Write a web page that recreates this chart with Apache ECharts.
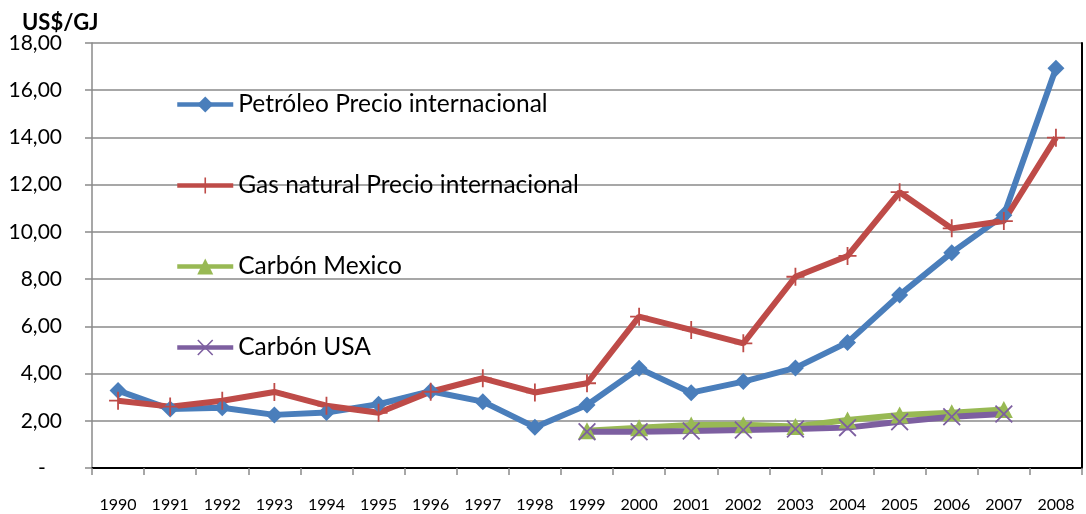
<!DOCTYPE html>
<html>
<head>
<meta charset="utf-8">
<title>Precios de energía 1990-2008</title>
<script src="https://cdn.jsdelivr.net/npm/echarts@6/dist/echarts.min.js"></script>
<style>
  html, body { margin: 0; padding: 0; background: #ffffff; }
  #chart { width: 1086px; height: 514px; }
</style>
</head>
<body>
<div id="chart"></div>
<script>
// Years on the category axis
const years = ['1990','1991','1992','1993','1994','1995','1996','1997','1998','1999',
               '2000','2001','2002','2003','2004','2005','2006','2007','2008'];

// Prices in US$/GJ
const petroleo = [3.28, 2.50, 2.55, 2.25, 2.35, 2.70, 3.25, 2.81, 1.73, 2.67,
                  4.22, 3.19, 3.66, 4.24, 5.32, 7.33, 9.12, 10.70, 16.93];
const gasNatural = [2.85, 2.60, 2.85, 3.22, 2.64, 2.34, 3.23, 3.80, 3.20, 3.59,
                    6.41, 5.85, 5.28, 8.10, 8.98, 11.68, 10.15, 10.46, 13.99];
const carbonMexico = [null, null, null, null, null, null, null, null, null, 1.58,
                      1.71, 1.82, 1.83, 1.76, 2.03, 2.24, 2.34, 2.48, null];
const carbonUSA = [null, null, null, null, null, null, null, null, null, 1.54,
                   1.54, 1.57, 1.61, 1.65, 1.71, 1.96, 2.17, 2.29, null];

// Value-axis tick labels (0 to 18, step 2)
const yTickLabels = ['-   ', '2,00', '4,00', '6,00', '8,00', '10,00', '12,00', '14,00', '16,00', '18,00'];

const seriesNames = ['Petróleo Precio internacional', 'Gas natural Precio internacional', 'Carbón Mexico', 'Carbón USA'];

const FONT = 'Lato';
const GRID_GRAY = '#8a8a8a';

// Marker shapes: thin plus and thin cross
const plusPath = 'path://M9,0h2v9h9v2h-9v9h-2v-9h-9v-2h9z';
const crossPath = 'path://M0,1.4L1.4,0L10,8.6L18.6,0L20,1.4L11.4,10L20,18.6L18.6,20L10,11.4L1.4,20L0,18.6L8.6,10Z';

const chart = echarts.init(document.getElementById('chart'), null, { renderer: 'canvas' });

chart.setOption({
  backgroundColor: '#ffffff',
  animation: false,
  title: {
    text: 'US$/GJ',
    left: 22,
    top: 12,
    padding: 0,
    textStyle: { fontFamily: FONT, fontSize: 22, fontWeight: 'bold', color: '#000000' }
  },
  legend: {
    orient: 'vertical',
    left: 175,
    top: 92,
    padding: 0,
    itemGap: 56,
    itemWidth: 56,
    itemHeight: 20,
    data: seriesNames,
    lineStyle: { width: 4.5 },
    textStyle: { fontFamily: FONT, fontSize: 24.5, color: '#000000' }
  },
  grid: { left: 92, right: 4, top: 43, bottom: 46, containLabel: false },
  xAxis: [
    {
      type: 'category',
      data: years,
      boundaryGap: true,
      axisLine: { show: true, lineStyle: { color: GRID_GRAY, width: 1.5 } },
      axisTick: { show: true, length: 7, inside: false, lineStyle: { color: GRID_GRAY, width: 1.5 } },
      axisLabel: { margin: 29, fontFamily: FONT, fontSize: 16, color: '#000000', interval: 0 },
      splitLine: { show: false }
    },
    {
      type: 'category',
      data: years,
      position: 'top',
      axisLine: { show: true, lineStyle: { color: '#000000', width: 2 } },
      axisTick: { show: false },
      axisLabel: { show: false },
      splitLine: { show: false }
    }
  ],
  yAxis: [
    {
      type: 'value',
      min: 0,
      max: 18,
      interval: 2,
      axisLine: { show: true, lineStyle: { color: GRID_GRAY, width: 1.5 } },
      axisTick: { show: true, length: 7, inside: false, lineStyle: { color: GRID_GRAY, width: 1.5 } },
      axisLabel: {
        margin: 30,
        fontFamily: FONT,
        fontSize: 21,
        color: '#000000',
        formatter: function (v) { return yTickLabels[Math.round(v / 2)]; }
      },
      splitLine: { show: true, lineStyle: { color: GRID_GRAY, width: 1.5 } }
    },
    {
      type: 'value',
      min: 0,
      max: 18,
      interval: 2,
      position: 'right',
      axisLine: { show: true, lineStyle: { color: '#000000', width: 2 } },
      axisTick: { show: false },
      axisLabel: { show: false },
      splitLine: { show: false }
    }
  ],
  series: [
    {
      name: seriesNames[0],
      type: 'line',
      data: petroleo,
      symbol: 'diamond',
      symbolSize: 17,
      color: '#4a7ebb',
      lineStyle: { width: 6, color: '#4a7ebb' },
      itemStyle: { color: '#4a7ebb' }
    },
    {
      name: seriesNames[1],
      type: 'line',
      data: gasNatural,
      symbol: plusPath,
      symbolSize: 18,
      color: '#be4b48',
      lineStyle: { width: 6, color: '#be4b48' },
      itemStyle: { color: '#be4b48' }
    },
    {
      name: seriesNames[2],
      type: 'line',
      data: carbonMexico,
      symbol: 'triangle',
      symbolSize: [18, 17],
      color: '#98b954',
      lineStyle: { width: 6, color: '#98b954' },
      itemStyle: { color: '#98b954' }
    },
    {
      name: seriesNames[3],
      type: 'line',
      data: carbonUSA,
      symbol: crossPath,
      symbolSize: 18,
      color: '#7d5fa0',
      lineStyle: { width: 6, color: '#7d5fa0' },
      itemStyle: { color: '#7d5fa0' }
    }
  ]
});
</script>
</body>
</html>
